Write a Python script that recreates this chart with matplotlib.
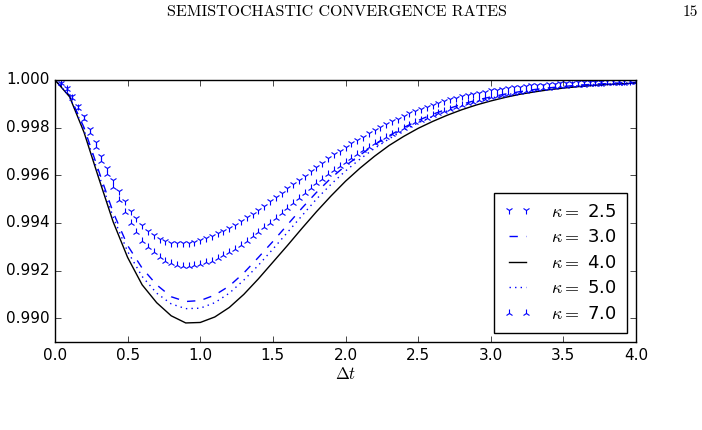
import numpy as np
import matplotlib
matplotlib.use("Agg")
import matplotlib.pyplot as plt

plt.style.use("classic")
plt.rcParams["figure.facecolor"] = "white"
plt.rcParams["savefig.facecolor"] = "white"

# step size grids (line curves every 0.1, marker curves every 0.04)
dt_line = np.linspace(0.0, 4.0, 41)
dt_mark = np.linspace(0.04, 4.0, 100)

# distance below 1, in units of 1e-4
gap_k30 = [0, 6.5, 20, 38, 55.5, 69.5, 79, 86, 91, 93,
           92.6, 90.3, 86.5, 81, 74.5, 67.8, 60.8, 53.8, 47.2, 41.2,
           36, 31.5, 27.2, 23.4, 20, 17, 14.4, 12.2, 10.2, 8.5,
           7.1, 5.9, 4.9, 4.0, 3.3, 2.7, 2.2, 1.8, 1.5, 1.2, 1.0]
gap_k40 = [0, 7, 22, 41, 59.5, 74.5, 86, 93.5, 99, 102,
           101.8, 99.5, 95.5, 90, 83.5, 76.5, 69.5, 62.3, 55.3, 48.7,
           42.5, 37, 32, 27.5, 23.7, 20.3, 17.4, 14.8, 12.5, 10.5,
           8.8, 7.3, 6.0, 5.0, 4.1, 3.4, 2.8, 2.3, 1.9, 1.6, 1.3]
gap_k50 = [0, 6.8, 21, 39.5, 57.5, 72, 82.5, 89.5, 94, 96,
           95.8, 93.5, 89.5, 84, 77.8, 71, 64, 57, 50, 43.8,
           38.2, 33.2, 28.7, 24.7, 21.1, 18, 15.3, 13, 10.9, 9.1,
           7.6, 6.3, 5.2, 4.3, 3.5, 2.9, 2.4, 1.9, 1.6, 1.3, 1.1]
gap_k25 = [1.2, 3.4, 6.8, 10.8, 15, 20.4, 26.2, 31.8, 37.1, 42,
           46.7, 51, 54.8, 58.1, 61, 63.3, 65.2, 66.6, 67.5, 68.3,
           68.45, 68.55, 68.45, 67.9, 67.3, 66.5, 65.5, 64.4, 63.3, 62,
           60.7, 59.2, 57.7, 56.1, 54.5, 52.7, 50.9, 49.1, 47.3, 45.5,
           43.7, 41.9, 40.1, 38.3, 36.5, 34.7, 32.9, 31.2, 29.6, 28,
           26.6, 25.2, 23.8, 22.4, 21, 19.8, 18.6, 17.4, 16.2, 15,
           14, 13, 12.05, 11.2, 10.3, 9.5, 8.8, 8.1, 7.4, 6.8,
           6.3, 5.75, 5.3, 4.85, 4.4, 4.0, 3.7, 3.35, 3.05, 2.8,
           2.55, 2.3, 2.1, 1.9, 1.7, 1.55, 1.4, 1.25, 1.1, 1.0,
           0.92, 0.84, 0.76, 0.68, 0.6, 0.54, 0.48, 0.43, 0.39, 0.35]
gap_k70 = [1.3, 3.8, 7.4, 11.8, 16.5, 22.1, 28, 33.9, 39.5, 45,
           50.4, 55.5, 60.1, 64, 67.5, 70.1, 72.4, 74.3, 75.8, 77,
           77.6, 77.95, 78, 77.7, 77.3, 76.6, 75.8, 74.8, 73.6, 72.3,
           70.8, 69.2, 67.5, 65.7, 63.9, 61.9, 59.9, 57.9, 55.8, 53.7,
           51.6, 49.5, 47.4, 45.3, 43.3, 41.4, 39.5, 37.7, 36, 34.3,
           32.7, 31.1, 29.5, 28, 26.6, 25.2, 23.9, 22.6, 21.3, 20.1,
           18.9, 17.8, 16.8, 15.8, 14.8, 13.9, 13, 12.1, 11.3, 10.5,
           9.8, 9.1, 8.5, 7.9, 7.3, 6.8, 6.3, 5.8, 5.3, 4.9,
           4.5, 4.2, 3.8, 3.5, 3.2, 2.95, 2.7, 2.5, 2.3, 2.1,
           1.95, 1.8, 1.65, 1.5, 1.35, 1.25, 1.15, 1.05, 0.97, 0.9]


def as_ratio(gap):
    return 1.0 - np.asarray(gap) * 1e-4


fig = plt.figure(figsize=(7.02, 4.30), dpi=100)
ax = fig.add_axes([55 / 702, 1 - 342 / 430, 581 / 702, 262 / 430])

ax.plot(dt_mark, as_ratio(gap_k25), "b1", ls="None", ms=6, mew=0.8, label=r"$\kappa=$ 2.5")
ax.plot(dt_line, as_ratio(gap_k30), "b--", lw=1, label=r"$\kappa=$ 3.0")
ax.plot(dt_line, as_ratio(gap_k40), "k-", lw=1, label=r"$\kappa=$ 4.0")
ax.plot(dt_line, as_ratio(gap_k50), "b:", lw=1, label=r"$\kappa=$ 5.0")
ax.plot(dt_mark, as_ratio(gap_k70), "b2", ls="None", ms=6, mew=0.8, label=r"$\kappa=$ 7.0")

ax.set_xlim(0, 4)
ax.set_ylim(0.989, 1.0)
ax.set_xticks(np.arange(0, 4.01, 0.5))
ax.set_yticks(np.arange(0.990, 1.0001, 0.002))
ax.ticklabel_format(useOffset=False)
ax.tick_params(labelsize=11)
ax.set_xlabel(r"$\Delta t$", fontsize=12, labelpad=2)

leg = ax.legend(loc="lower right", fontsize=13, numpoints=2, handlelength=1.55,
                handletextpad=1.1, borderpad=0.55, labelspacing=0.42,
                fancybox=False)
leg.get_frame().set_edgecolor("black")

fig.text(0.48, 0.972, "SEMISTOCHASTIC CONVERGENCE RATES", family="cmr10",
         fontsize=11.5, ha="center", va="center")
fig.text(0.983, 0.972, "15", family="cmr10", fontsize=11, ha="center", va="center")

fig.savefig("out.png", dpi=100)
